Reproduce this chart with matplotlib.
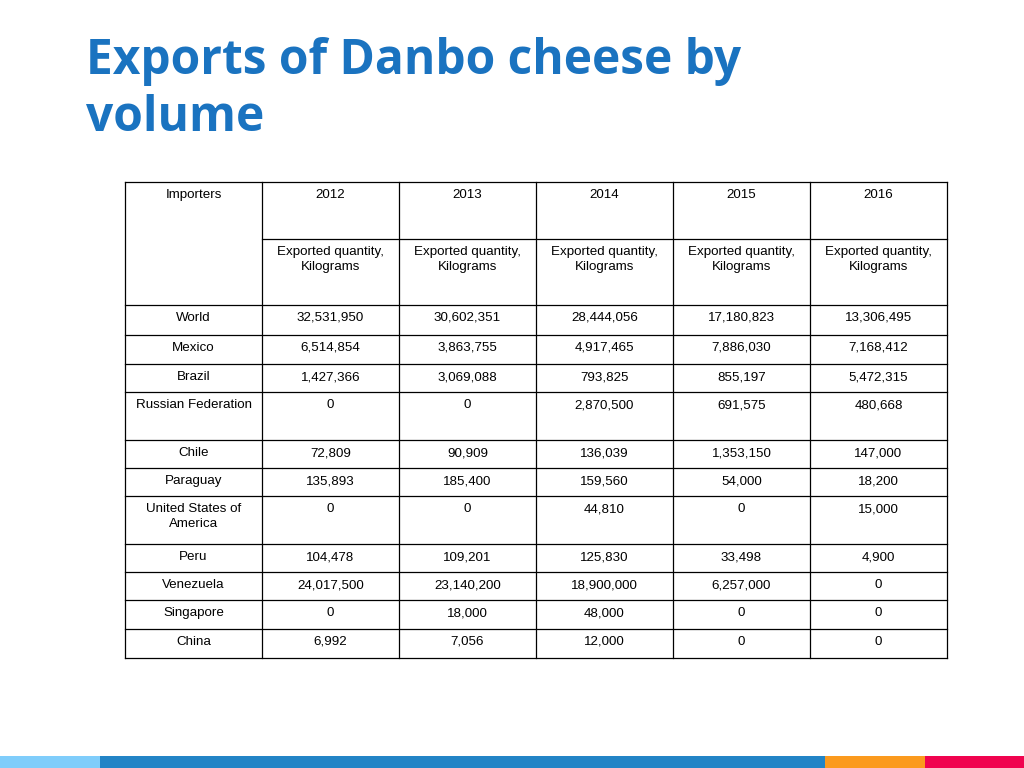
import matplotlib
matplotlib.use("Agg")
import matplotlib.pyplot as plt

title = "Exports of Danbo cheese by\nvolume"
years = ["2012", "2013", "2014", "2015", "2016"]
unit = "Exported quantity,\nKilograms"
importers = ["World", "Mexico", "Brazil", "Russian Federation", "Chile", "Paraguay",
             "United States of\nAmerica", "Peru", "Venezuela", "Singapore", "China"]
v2012 = ["32,531,950", "6,514,854", "1,427,366", "0", "72,809", "135,893", "0", "104,478", "24,017,500", "0", "6,992"]
v2013 = ["30,602,351", "3,863,755", "3,069,088", "0", "90,909", "185,400", "0", "109,201", "23,140,200", "18,000", "7,056"]
v2014 = ["28,444,056", "4,917,465", "793,825", "2,870,500", "136,039", "159,560", "44,810", "125,830", "18,900,000", "48,000", "12,000"]
v2015 = ["17,180,823", "7,886,030", "855,197", "691,575", "1,353,150", "54,000", "0", "33,498", "6,257,000", "0", "0"]
v2016 = ["13,306,495", "7,168,412", "5,472,315", "480,668", "147,000", "18,200", "15,000", "4,900", "0", "0", "0"]

fig = plt.figure(figsize=(10.24, 7.68), dpi=100)
ax = fig.add_axes([0, 0, 1, 1])
ax.set_xlim(0, 1024); ax.set_ylim(768, 0); ax.axis("off")

ax.text(86, 90, title, fontsize=34.5, fontweight="bold", color="#1a73c0",
        family="Open Sans", va="center", linespacing=1.2)

xs = [125, 262, 399, 536, 673, 810, 947]
ys = [182, 239, 305, 335, 364, 392, 440, 468, 496, 544, 572, 600, 629, 658]
for x in xs:
    ax.plot([x, x], [ys[0], ys[-1]], color="black", lw=0.9)
for i, y in enumerate(ys):
    x0 = xs[1] if i == 1 else xs[0]
    ax.plot([x0, xs[-1]], [y, y], color="black", lw=0.9)

fs = 9.6
fam = "Liberation Sans"
def put(col, y, s):
    cx = (xs[col] + xs[col + 1]) / 2
    ax.text(cx, y, s, ha="center", va="top", fontsize=fs, family=fam, linespacing=1.35)

put(0, 189, "Importers")
for j, yr in enumerate(years):
    put(j + 1, 189, yr)
    put(j + 1, 246, unit)
cols = [v2012, v2013, v2014, v2015, v2016]
for i, name in enumerate(importers):
    top = ys[i + 2] + 7
    put(0, top, name)
    for j in range(5):
        put(j + 1, top, cols[j][i])

for x0, x1, c in [(0, 100, "#7fcdfb"), (100, 825, "#2284c6"), (825, 925, "#fb9a1e"), (925, 1024, "#f0034f")]:
    ax.fill_between([x0, x1], 756, 768, color=c, lw=0)

fig.savefig("out.png", dpi=100)
